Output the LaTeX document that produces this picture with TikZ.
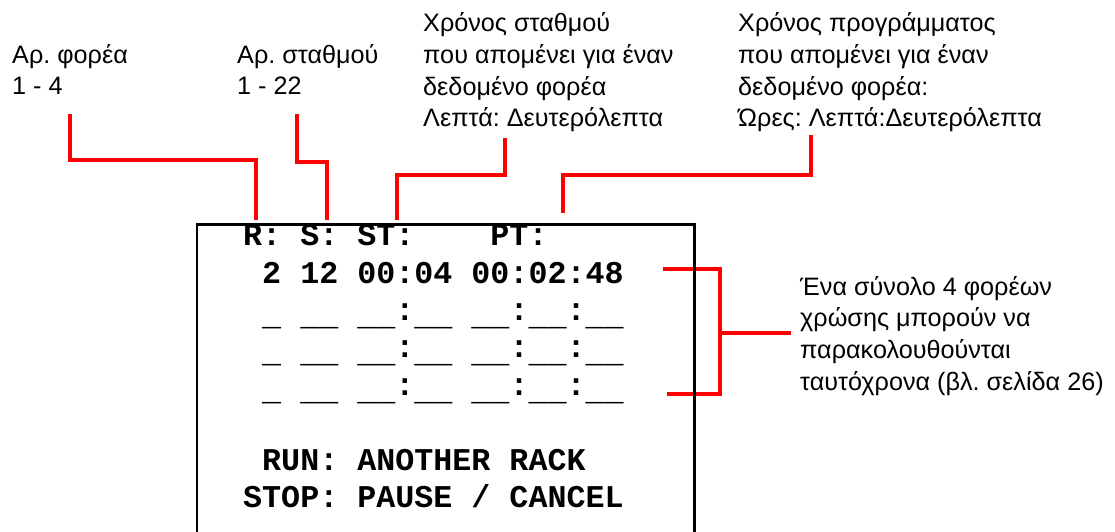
\documentclass[tikz,border=0pt]{standalone}
\usepackage{fontspec}
\setmainfont{Liberation Sans}
\setmonofont{Liberation Mono}
\frenchspacing
\newcommand\lowus{\raisebox{-5pt}{\_}}
\begin{document}
\begin{tikzpicture}[x=1pt,y=-1pt,
  lbl/.style={anchor=north west, inner sep=0pt, align=left,
    font=\fontsize{25.2}{31.7}\selectfont},
  mono/.style={anchor=north west, inner sep=0pt, align=left,
    font=\fontsize{31.7}{37.4}\selectfont\ttfamily\bfseries},
  conn/.style={draw=red, line width=4pt},
  screenbox/.style={draw=black, line width=2.5pt, rectangle, inner sep=0pt,
    minimum width=497.7pt, minimum height=340pt}]
\useasboundingbox (0,0) rectangle (1115,531);

% labels
\node[lbl] (rack) at (12,40.8) {\strut Αρ. φορέα\\1 - 4};
\node[lbl] (station) at (237,40.8) {\strut Αρ. σταθμού\\1 - 22};
\node[lbl] (sttime) at (423,9.3) {\strut Χρόνος σταθμού\\που απομένει για έναν\\δεδομένο φορέα\\Λεπτά: Δευτερόλεπτα};
\node[lbl] (pttime) at (738,9.3) {\strut Χρόνος προγράμματος\\που απομένει για έναν\\δεδομένο φορέα:\\Ώρες: Λεπτά:Δευτερόλεπτα};
\node[lbl] (note) at (800,272.8) {\strut Ένα σύνολο 4 φορέων\\χρώσης μπορούν να\\παρακολουθούνται\\ταυτόχρονα (βλ. σελίδα 26)};

% connector end points
\coordinate (a0) at (70,114);   \coordinate (a1) at (256,220);
\coordinate (b0) at (297,114);  \coordinate (b1) at (327,220);
\coordinate (c0) at (505,138);  \coordinate (c1) at (397,220);
\coordinate (d0) at (811,135);  \coordinate (d1) at (563,213);
\coordinate (e0) at (663,269);  \coordinate (e1) at (667,394);
\coordinate (e2) at (720,333);  \coordinate (e3) at (791,333);

\draw[conn] (a0) -- (a0 |- 0,160) -| (a1);
\draw[conn] (b0) -- (b0 |- 0,162) -| (b1);
\draw[conn] (c0) -- (c0 |- 0,175) -| (c1);
\draw[conn] (d0) -- (d0 |- 0,175) -| (d1);
\draw[conn] (e0) -- (e2 |- e0) -- (e2 |- e1) -- (e1);
\draw[conn] (e2) -- (e3);

% screen
\node[screenbox] (screen) at (445.85,394.5) {};
\node[mono] (display) at (243,219.3) {\strut R:~S:~ST:~~~~PT:\\
~2~12~00:04~00:02:48\\
~\lowus~\lowus\lowus~\lowus\lowus:\lowus\lowus~\lowus\lowus:\lowus\lowus:\lowus\lowus\\
~\lowus~\lowus\lowus~\lowus\lowus:\lowus\lowus~\lowus\lowus:\lowus\lowus:\lowus\lowus\\
~\lowus~\lowus\lowus~\lowus\lowus:\lowus\lowus~\lowus\lowus:\lowus\lowus:\lowus\lowus\\
\strut\\
~RUN:~ANOTHER~RACK\\
STOP:~PAUSE~/~CANCEL};
\end{tikzpicture}
\end{document}
